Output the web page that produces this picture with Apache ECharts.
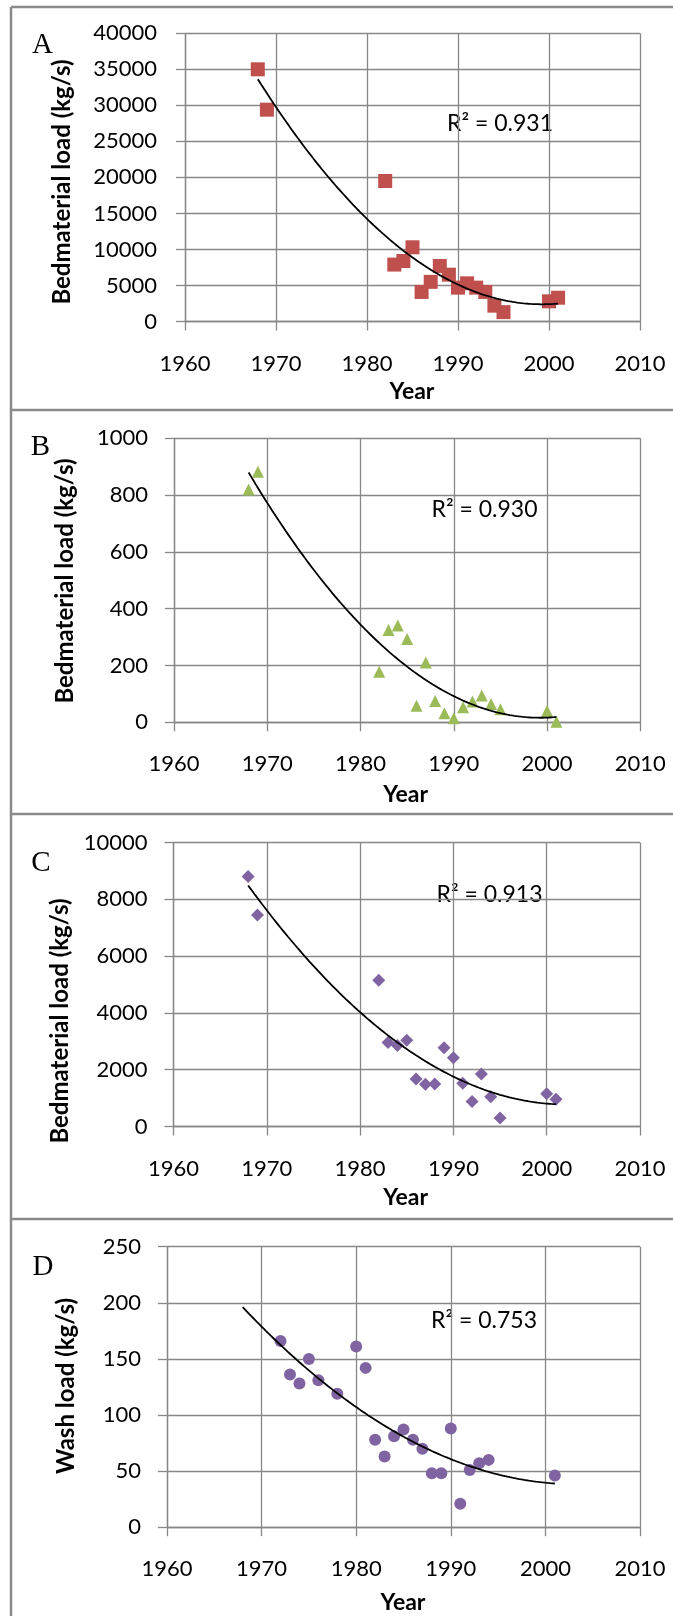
<!DOCTYPE html>
<html><head><meta charset="utf-8">
<script src="https://cdn.jsdelivr.net/npm/echarts@6/dist/echarts.min.js"></script>
<style>html,body{margin:0;padding:0;background:#fff}#c{width:673px;height:1616px}</style>
</head><body><div id="c"></div>
<script>
// ---- data ----
const xAxisRange = [1960, 2010, 10];

const yearsA = [1968,1969,1982,1983,1984,1985,1986,1987,1988,1989,1990,1991,1992,1993,1994,1995,2000,2001];
const loadA  = [35000,29400,19500,7900,8400,10300,4100,5500,7700,6500,4700,5300,4700,4100,2200,1300,2800,3300];
const yAxisA = [0, 40000, 5000];

const yearsB = [1968,1969,1982,1983,1984,1985,1986,1987,1988,1989,1990,1991,1992,1993,1994,1995,2000,2001];
const loadB  = [820,882,178,325,341,293,58,211,75,32,14,53,73,94,64,46,40,2];
const yAxisB = [0, 1000, 200];

const yearsC = [1968,1969,1982,1983,1984,1985,1986,1987,1988,1989,1990,1991,1992,1993,1994,1995,2000,2001];
const loadC  = [8800,7450,5150,2960,2850,3040,1670,1490,1500,2770,2420,1520,880,1850,1050,300,1150,960];
const yAxisC = [0, 10000, 2000];

const yearsD = [1972,1973,1974,1975,1976,1978,1980,1981,1982,1983,1984,1985,1986,1987,1988,1989,1990,1991,1992,1993,1994,2001];
const loadD  = [166,136,128,150,131,119,161,142,78,63,81,87,78,70,48,48,88,21,51,57,60,46];
const yAxisD = [0, 250, 50];

const trendRanges = [[1968,2001],[1968,2001],[1968,2001],[1968,2001]];
const r2Labels = ["R\u00B2 = 0.931","R\u00B2 = 0.930","R\u00B2 = 0.913","R\u00B2 = 0.753"];
const panelLetters = ["A","B","C","D"];
const yTitles = ["Bedmaterial load (kg/s)","Bedmaterial load (kg/s)","Bedmaterial load (kg/s)","Wash load (kg/s)"];
const xTitle = "Year";

// ---- quadratic least-squares trend ----
function quadFit(xs, ys){
  const m = xs.reduce((a,b)=>a+b,0)/xs.length;
  let S=[0,0,0,0,0], T=[0,0,0];
  xs.forEach((x,i)=>{const t=x-m; let p=1; for(let k=0;k<5;k++){S[k]+=p; if(k<3) T[k]+=p*ys[i]; p*=t;}});
  const A=[[S[0],S[1],S[2]],[S[1],S[2],S[3]],[S[2],S[3],S[4]]], b=T.slice();
  for(let i=0;i<3;i++){for(let j=i+1;j<3;j++){const f=A[j][i]/A[i][i];for(let k=i;k<3;k++)A[j][k]-=f*A[i][k];b[j]-=f*b[i];}}
  const c=[0,0,0];
  for(let i=2;i>=0;i--){let s=b[i];for(let k=i+1;k<3;k++)s-=A[i][k]*c[k];c[i]=s/A[i][i];}
  return x=>{const t=x-m;return c[0]+c[1]*t+c[2]*t*t;};
}
function trendData(xs, ys, range){
  const f = quadFit(xs, ys), out=[];
  for(let x=range[0]; x<=range[1]+1e-9; x+=0.25) out.push([x, f(x)]);
  return out;
}

// ---- layout ----
const FONT = 'Lato, "Open Sans", sans-serif';
const GRID_C = '#878787';
const panels = [
  {xs:yearsA, ys:loadA, yr:yAxisA, grid:{left:185, top:33.3, width:455, height:288.2}, sym:'rect', size:14, color:'#C0504D', lm:28,
   letter:[42.5,60], r2:[500,124], yt:[62,182], xt:[412,392]},
  {xs:yearsB, ys:loadB, yr:yAxisB, grid:{left:174, top:438.3, width:466.3, height:284}, sym:'triangle', size:12, color:'#9BBB59', lm:26,
   letter:[40.5,461.5], r2:[484.5,510], yt:[65,581], xt:[405.6,795]},
  {xs:yearsC, ys:loadC, yr:yAxisC, grid:{left:173.5, top:842.5, width:466.5, height:284}, sym:'diamond', size:13, color:'#8064A2', lm:26,
   letter:[41,877.5], r2:[489.5,895], yt:[60,1021], xt:[405.6,1198]},
  {xs:yearsD, ys:loadD, yr:yAxisD, grid:{left:167, top:1246.7, width:473, height:280.5}, sym:'circle', size:12, color:'#8064A2', lm:26,
   letter:[43,1282], r2:[484,1321], yt:[66,1386], xt:[403,1603]}
];

const plain = v => String(v);
const grids=[], xAxes=[], yAxes=[], series=[], graphics=[];
panels.forEach((p,i)=>{
  grids.push(Object.assign({containLabel:false}, p.grid));
  const axisCommon = {
    axisLine:{show:true, onZero:false, lineStyle:{color:GRID_C, width:1.3}},
    axisTick:{show:true, inside:false, length:9, lineStyle:{color:GRID_C, width:1.3}},
    splitLine:{show:true, lineStyle:{color:GRID_C, width:1.3}},
    axisLabel:{color:'#000', fontFamily:FONT, fontSize:22, formatter:plain}
  };
  xAxes.push(Object.assign({}, axisCommon, {type:'value', gridIndex:i, min:xAxisRange[0], max:xAxisRange[1], interval:xAxisRange[2],
    axisLabel:Object.assign({}, axisCommon.axisLabel, {margin:31})}));
  yAxes.push(Object.assign({}, axisCommon, {type:'value', gridIndex:i, min:p.yr[0], max:p.yr[1], interval:p.yr[2],
    axisLabel:Object.assign({}, axisCommon.axisLabel, {margin:p.lm})}));
  series.push({type:'scatter', xAxisIndex:i, yAxisIndex:i, symbol:p.sym, symbolSize:p.size,
    itemStyle:{color:p.color, opacity:1}, data:p.xs.map((x,k)=>[x,p.ys[k]]), z:2});
  series.push({type:'line', xAxisIndex:i, yAxisIndex:i, showSymbol:false, symbol:'none', smooth:false,
    lineStyle:{color:'#000', width:1.8}, data:trendData(p.xs,p.ys,trendRanges[i]), z:3, silent:true});
  graphics.push({type:'text', x:p.letter[0], y:p.letter[1], style:{text:panelLetters[i], font:'29px "Liberation Serif", "Times New Roman", serif', fill:'#000', textAlign:'center', textVerticalAlign:'bottom'}});
  graphics.push({type:'text', x:p.r2[0], y:p.r2[1], style:{text:r2Labels[i], font:'23px '+FONT, fill:'#000', textAlign:'center', textVerticalAlign:'middle'}});
  graphics.push({type:'text', x:p.yt[0], y:p.yt[1], rotation:Math.PI/2, style:{text:yTitles[i], font:'bold 24px '+FONT, fill:'#000', textAlign:'center', textVerticalAlign:'middle'}});
  graphics.push({type:'text', x:p.xt[0], y:p.xt[1], style:{text:xTitle, font:'bold 23px '+FONT, fill:'#000', textAlign:'center', textVerticalAlign:'middle'}});
});
// panel frames
const BORDER = {stroke:'#8a8a8a', lineWidth:2.5};
graphics.push({type:'line', shape:{x1:11, y1:7, x2:11, y2:1616}, style:BORDER});
[7, 410, 814, 1219].forEach(y=>graphics.push({type:'line', shape:{x1:11, y1:y, x2:673, y2:y}, style:BORDER}));

const chart = echarts.init(document.getElementById('c'), null, {renderer:'canvas'});
chart.setOption({animation:false, backgroundColor:'#fff', grid:grids, xAxis:xAxes, yAxis:yAxes, series:series, graphic:graphics});
</script></body></html>
